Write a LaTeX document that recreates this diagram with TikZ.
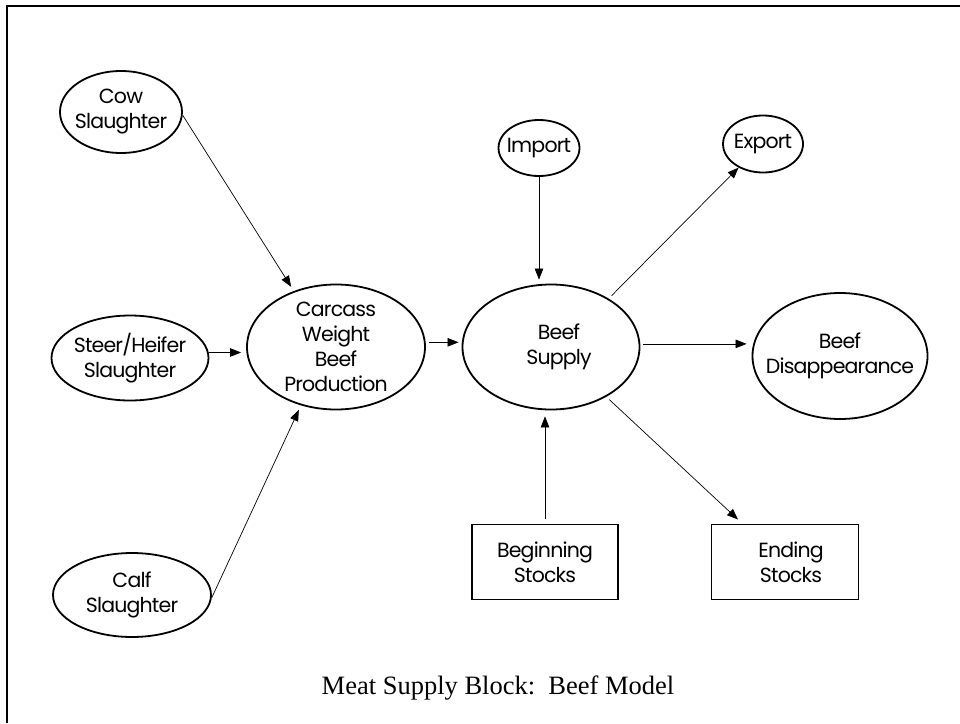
\documentclass[tikz,border=0pt]{standalone}
\usepackage{fontspec}
\usetikzlibrary{shapes.geometric}
\usetikzlibrary{arrows.meta}
\newfontfamily\blockfont{Poppins}[LetterSpace=-4.0]
\newfontfamily\captionfont{Liberation Serif}

\begin{document}
\begin{tikzpicture}[x=1pt,y=-1pt,
  ell/.style={ellipse, draw, line width=1.8pt, inner sep=0pt},
  box/.style={rectangle, draw, line width=1.8pt, inner sep=0pt},
  every label/.style={align=center, font=\blockfont\fontsize{20.5}{25}\selectfont},
  flow/.style={line width=0.7pt, -{Triangle[length=11pt,width=8.5pt]}}]
\useasboundingbox (0,0) rectangle (960,723);

% frame
\draw[line width=2pt] (7,723)--(7,6)--(960,6);

% slaughter
\node[ell, minimum width=122pt, minimum height=82pt, label={center:Cow\\Slaughter}] (cow) at (121,112) {};
\node[ell, minimum width=157pt, minimum height=85pt, label={center:Steer/Heifer\\Slaughter}] (steer) at (130,358) {};
\node[ell, minimum width=158pt, minimum height=84pt, label={center:Calf\\Slaughter}] (calf) at (132,595) {};

% production and supply
\node[ell, minimum width=178pt, minimum height=125pt, label={center:Carcass\\Weight\\Beef\\Production}] (carcass) at (336,347) {};
\node[ell, minimum width=177pt, minimum height=125pt, label={[xshift=8pt]center:Beef\\Supply}] (supply) at (551,347) {};
\node[ell, minimum width=81pt, minimum height=56pt, label={center:Import}] (import) at (539,148) {};
\node[ell, minimum width=80pt, minimum height=57pt, label={center:Export}] (export) at (763,144) {};
\node[ell, minimum width=175pt, minimum height=126pt, label={center:Beef\\Disappearance}] (disap) at (840,356) {};

% stocks
\node[box, minimum width=146pt, minimum height=75pt, label={center:Beginning\\Stocks}] (begin) at (545,562) {};
\node[box, minimum width=147pt, minimum height=75pt, label={[xshift=6pt]center:Ending\\Stocks}] (ending) at (785,562) {};

% arrows
\draw[flow, shorten >=5pt] (cow.-3) -- (carcass.127);
\draw[flow, shorten >=5pt] (steer.4) -- (steer.4 -| carcass.west);
\draw[flow, shorten >=5pt] (calf.-2) -- (carcass.239);
\draw[flow, shorten <=3pt, shorten >=3pt] (carcass.3) -- (carcass.3 -| supply.west);
\draw[flow, shorten >=4pt] (import.south) -- (import.south |- supply.north);
\draw[flow, shorten <=4pt] (supply.40) -- (export.224);
\draw[flow, shorten <=3pt, shorten >=5pt] (supply.2) -- (supply.2 -| disap.west);
\draw[flow, shorten <=5pt, shorten >=6pt] (begin.north) -- (begin.north |- supply.south);
\draw[flow, shorten <=4pt, shorten >=6pt] (supply.-42) -- (ending.138);

\node[anchor=base, font=\captionfont\fontsize{26.5}{30}\selectfont] (title) at (498,694) {Meat Supply Block:\ \ Beef Model};
\end{tikzpicture}
\end{document}
